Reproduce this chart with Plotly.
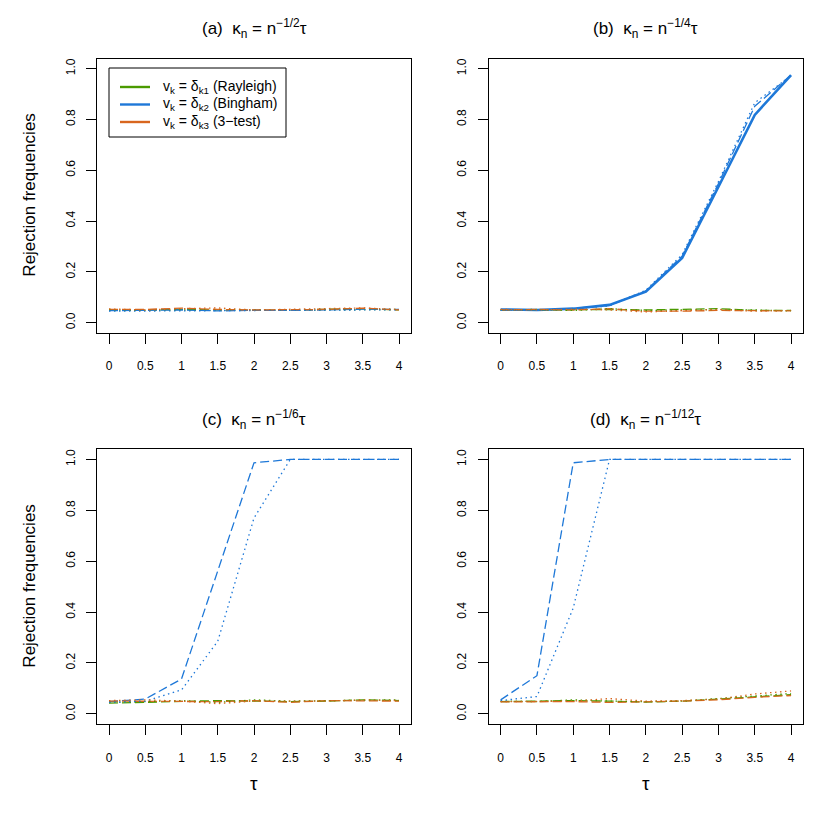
"""
Rejection frequencies of the three tests under the four kappa_n regimes,
laid out as a 2x2 grid like the R base-graphics original.
"""
import plotly.graph_objects as go
from plotly.subplots import make_subplots

tau = [0, 0.5, 1, 1.5, 2, 2.5, 3, 3.5, 4]

# (a) kappa_n = n^(-1/2) tau
a_ray_dash = [0.048, 0.050, 0.052, 0.050, 0.048, 0.050, 0.052, 0.055, 0.050]
a_ray_dot = [0.050, 0.048, 0.050, 0.048, 0.050, 0.048, 0.050, 0.052, 0.052]
a_bing_dash = [0.047, 0.048, 0.050, 0.046, 0.049, 0.048, 0.050, 0.053, 0.052]
a_bing_dot = [0.045, 0.046, 0.048, 0.047, 0.047, 0.049, 0.050, 0.050, 0.050]
a_three_dash = [0.052, 0.052, 0.057, 0.052, 0.050, 0.050, 0.052, 0.057, 0.050]
a_three_dot = [0.054, 0.050, 0.055, 0.058, 0.050, 0.052, 0.055, 0.058, 0.052]

# (b) kappa_n = n^(-1/4) tau
b_ray_dash = [0.048, 0.050, 0.050, 0.052, 0.050, 0.052, 0.055, 0.048, 0.048]
b_ray_dot = [0.050, 0.052, 0.048, 0.055, 0.048, 0.050, 0.052, 0.050, 0.046]
b_bing_solid = [0.052, 0.050, 0.055, 0.070, 0.122, 0.255, 0.535, 0.818, 0.975]
b_bing_dash = [0.050, 0.049, 0.056, 0.068, 0.125, 0.262, 0.548, 0.852, 0.975]
b_bing_dot = [0.048, 0.048, 0.054, 0.066, 0.128, 0.268, 0.556, 0.866, 0.972]
b_three_dash = [0.050, 0.052, 0.050, 0.055, 0.045, 0.045, 0.048, 0.046, 0.046]
b_three_dot = [0.052, 0.050, 0.053, 0.050, 0.042, 0.048, 0.052, 0.045, 0.048]

# (c) kappa_n = n^(-1/6) tau
c_ray_dash = [0.042, 0.045, 0.050, 0.052, 0.050, 0.048, 0.050, 0.055, 0.052]
c_ray_dot = [0.045, 0.048, 0.052, 0.045, 0.055, 0.050, 0.052, 0.055, 0.055]
c_bing_dash = [0.048, 0.058, 0.137, 0.562, 0.987, 1.0, 1.0, 1.0, 1.0]
c_bing_dot = [0.045, 0.050, 0.094, 0.285, 0.770, 1.0, 1.0, 1.0, 1.0]
c_three_dash = [0.050, 0.050, 0.050, 0.048, 0.052, 0.045, 0.052, 0.052, 0.050]
c_three_dot = [0.052, 0.055, 0.050, 0.040, 0.050, 0.050, 0.050, 0.055, 0.052]

# (d) kappa_n = n^(-1/12) tau
d_ray_dash = [0.048, 0.050, 0.052, 0.050, 0.046, 0.050, 0.058, 0.068, 0.075]
d_ray_dot = [0.050, 0.048, 0.055, 0.050, 0.048, 0.050, 0.060, 0.070, 0.080]
d_bing_dash = [0.055, 0.150, 0.987, 1.0, 1.0, 1.0, 1.0, 1.0, 1.0]
d_bing_dot = [0.052, 0.068, 0.416, 1.0, 1.0, 1.0, 1.0, 1.0, 1.0]
d_three_dash = [0.047, 0.047, 0.048, 0.045, 0.047, 0.050, 0.055, 0.065, 0.072]
d_three_dot = [0.048, 0.050, 0.050, 0.060, 0.050, 0.052, 0.058, 0.078, 0.090]

titles = ["(a)  κ<sub>n</sub> = n<sup>−1/2</sup>τ",
          "(b)  κ<sub>n</sub> = n<sup>−1/4</sup>τ",
          "(c)  κ<sub>n</sub> = n<sup>−1/6</sup>τ",
          "(d)  κ<sub>n</sub> = n<sup>−1/12</sup>τ"]
legend_names = ["v<sub>k</sub> = δ<sub>k1</sub> (Rayleigh)",
                "v<sub>k</sub> = δ<sub>k2</sub> (Bingham)",
                "v<sub>k</sub> = δ<sub>k3</sub> (3−test)"]

GREEN, BLUE, ORANGE = "#4A9A00", "#1E78D8", "#D8661E"
DASH = "9px,4px"
DOT = "1.5px,3.5px"
FONT = "Liberation Sans, Arial, sans-serif"

W = H = 822
# plot boxes in pixels (left, right, top, bottom)
cols_px = [(97.4, 410.6), (489.0, 802.7)]
rows_px = [(58.5, 332.8), (449.3, 724.0)]

fig = make_subplots(rows=2, cols=2)

panels = [
    (1, 1, [(GREEN, a_ray_dash, a_ray_dot), (BLUE, a_bing_dash, a_bing_dot),
            (ORANGE, a_three_dash, a_three_dot)], None),
    (1, 2, [(GREEN, b_ray_dash, b_ray_dot), (BLUE, b_bing_dash, b_bing_dot),
            (ORANGE, b_three_dash, b_three_dot)], b_bing_solid),
    (2, 1, [(GREEN, c_ray_dash, c_ray_dot), (BLUE, c_bing_dash, c_bing_dot),
            (ORANGE, c_three_dash, c_three_dot)], None),
    (2, 2, [(GREEN, d_ray_dash, d_ray_dot), (BLUE, d_bing_dash, d_bing_dot),
            (ORANGE, d_three_dash, d_three_dot)], None),
]

for r, c, series, solid in panels:
    if solid is not None:
        fig.add_trace(go.Scatter(x=tau, y=solid, mode="lines", showlegend=False,
                                 line=dict(color=BLUE, width=2.6)), row=r, col=c)
    for col, dash_vals, _ in series:
        fig.add_trace(go.Scatter(x=tau, y=dash_vals, mode="lines", showlegend=False,
                                 line=dict(color=col, width=1.3, dash=DASH)), row=r, col=c)
    for col, _, dot_vals in series:
        fig.add_trace(go.Scatter(x=tau, y=dot_vals, mode="lines", showlegend=False,
                                 line=dict(color=col, width=1.3, dash=DOT)), row=r, col=c)

axis_common = dict(showline=True, linecolor="black", linewidth=1.2, mirror=True,
                   ticks="outside", ticklen=10, tickwidth=1, tickcolor="black",
                   showgrid=False, zeroline=False,
                   tickfont=dict(family=FONT, size=12, color="black"))

for r in (1, 2):
    for c in (1, 2):
        x0, x1 = cols_px[c - 1]
        y0, y1 = rows_px[r - 1]
        fig.update_xaxes(domain=[x0 / W, x1 / W], range=[-0.16, 4.16],
                         tickvals=tau, ticklabelstandoff=12, **axis_common,
                         row=r, col=c)
        fig.update_yaxes(domain=[1 - y1 / H, 1 - y0 / H], range=[-0.04, 1.04],
                         tickvals=[0, 0.2, 0.4, 0.6, 0.8, 1.0], tickformat=".1f",
                         tickangle=-90, ticklabelstandoff=7, **axis_common,
                         row=r, col=c)

annotations = []
shapes = []
for i, t in enumerate(titles):
    r, c = divmod(i, 2)
    x0, x1 = cols_px[c]
    y0, _ = rows_px[r]
    annotations.append(dict(text=t, x=(x0 + x1) / 2 / W, y=1 - (y0 - 30) / H,
                            xref="paper", yref="paper", showarrow=False,
                            xanchor="center", yanchor="middle",
                            font=dict(family=FONT, size=17, color="black")))
for r in (0, 1):
    y0, y1 = rows_px[r]
    annotations.append(dict(text="Rejection frequencies", x=30 / W,
                            y=1 - (y0 + y1) / 2 / H, xref="paper", yref="paper",
                            textangle=-90, showarrow=False,
                            xanchor="center", yanchor="middle",
                            font=dict(family=FONT, size=17, color="black")))
for c in (0, 1):
    x0, x1 = cols_px[c]
    annotations.append(dict(text="τ", x=(x0 + x1) / 2 / W, y=1 - 783 / H,
                            xref="paper", yref="paper", showarrow=False,
                            xanchor="center", yanchor="middle",
                            font=dict(family=FONT, size=19, color="black")))

# R-style legend box inside panel (a)
shapes.append(dict(type="rect", xref="paper", yref="paper",
                   x0=109 / W, x1=286 / W, y0=1 - 137 / H, y1=1 - 68 / H,
                   line=dict(color="black", width=1), fillcolor="white", layer="above"))
for k, (col, name) in enumerate(zip([GREEN, BLUE, ORANGE], legend_names)):
    ypx = 87 + 17.5 * k
    shapes.append(dict(type="line", xref="paper", yref="paper",
                       x0=120 / W, x1=150 / W, y0=1 - ypx / H, y1=1 - ypx / H,
                       line=dict(color=col, width=2.4), layer="above"))
    annotations.append(dict(text=name, x=161 / W, y=1 - ypx / H,
                            xref="paper", yref="paper", showarrow=False,
                            xanchor="left", yanchor="middle",
                            font=dict(family=FONT, size=14, color="black")))

fig.update_layout(
    width=W, height=H,
    margin=dict(l=0, r=0, t=0, b=0),
    plot_bgcolor="white", paper_bgcolor="white",
    annotations=annotations,
    shapes=shapes,
    showlegend=False,
)

fig.write_html("out.html", config={"displayModeBar": False},
               post_script="document.body.style.margin='0';")
